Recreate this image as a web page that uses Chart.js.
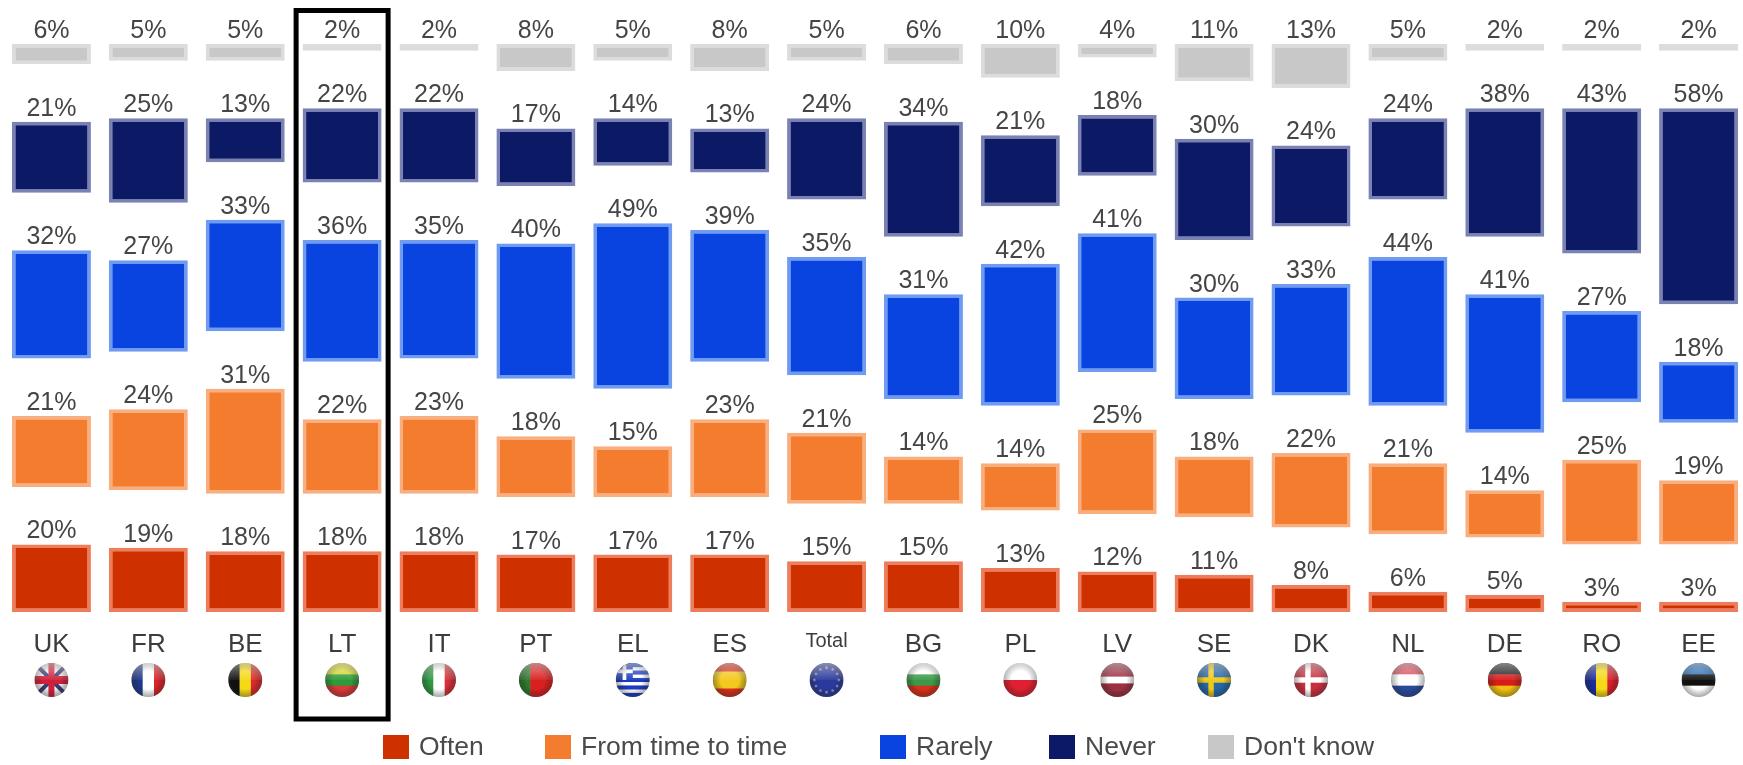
<!DOCTYPE html>
<html>
<head>
<meta charset="utf-8">
<title>Chart</title>
<script src="https://cdn.jsdelivr.net/npm/chart.js@4"></script>
<style>
	html, body { margin: 0; padding: 0; background: #fff; overflow: hidden; }
	canvas { display: block; filter: blur(0.6px); }
</style>
</head>
<body>
<canvas id="chart" width="1747" height="765" style="width:1747px;height:765px"></canvas>
<script>
const countries = ['UK', 'FR', 'BE', 'LT', 'IT', 'PT', 'EL', 'ES', 'Total', 'BG', 'PL', 'LV', 'SE', 'DK', 'NL', 'DE', 'RO', 'EE'];
const often = [20, 19, 18, 18, 18, 17, 17, 17, 15, 15, 13, 12, 11, 8, 6, 5, 3, 3];
const fromTimeToTime = [21, 24, 31, 22, 23, 18, 15, 23, 21, 14, 14, 25, 18, 22, 21, 14, 25, 19];
const rarely = [32, 27, 33, 36, 35, 40, 49, 39, 35, 31, 42, 41, 30, 33, 44, 41, 27, 18];
const never = [21, 25, 13, 22, 22, 17, 14, 13, 24, 34, 21, 18, 30, 24, 24, 38, 43, 58];
const dontKnow = [6, 5, 5, 2, 2, 8, 5, 8, 5, 6, 10, 4, 11, 13, 5, 2, 2, 2];

// white space between two segments, in % units
const GAP = 17;

const series = [
	{ label: 'Often', data: often, color: '#cf3000', edge: '#ee7d5c' },
	{ label: 'From time to time', data: fromTimeToTime, color: '#f37c2e', edge: '#f9ae80' },
	{ label: 'Rarely', data: rarely, color: '#0a44e0', edge: '#6f9bf0' },
	{ label: 'Never', data: never, color: '#0c1a66', edge: '#7a82b4' },
	{ label: "Don't know", data: dontKnow, color: '#c8c8c8', edge: '#dcdcdc' }
];

const datasets = [];
series.forEach((s, i) => {
	datasets.push({
		label: s.label,
		data: s.data,
		backgroundColor: s.color,
		borderColor: s.edge,
		borderWidth: 3.5,
		borderSkipped: false,
		stack: 'all'
	});
	if (i < series.length - 1) {
		datasets.push({
			label: 'gap',
			data: countries.map(() => GAP),
			backgroundColor: 'transparent',
			stack: 'all'
		});
	}
});

const stripes = {
	FR: ['v', '#1f3a8c', '#ffffff', '#d8242c'],
	BE: ['v', '#111111', '#f5d816', '#dc2a2a'],
	LT: ['h', '#d6d62a', '#2f9a3a', '#d83a3a'],
	IT: ['v', '#2f9a45', '#ffffff', '#d8303a'],
	PT: ['v', '#2f7a2f', '#d82020', '#d82020'],
	ES: ['h', '#d8301c', '#f2c91c', '#f2c91c', '#d8301c'],
	BG: ['h', '#ffffff', '#3a9a48', '#d8301c'],
	PL: ['h', '#ffffff', '#e02030'],
	LV: ['h', '#9c3040', '#9c3040', '#ffffff', '#9c3040', '#9c3040'],
	NL: ['h', '#d85060', '#ffffff', '#2a4a9c'],
	DE: ['h', '#222222', '#d81c1c', '#f0c010'],
	RO: ['v', '#1c2f9c', '#f5d816', '#d8202c'],
	EE: ['h', '#2a70b8', '#111111', '#ffffff']
};

function drawCross(ctx, x, y, r, back, front) {
	ctx.fillStyle = back;
	ctx.fillRect(x - r, y - r, r * 2, r * 2);
	ctx.fillStyle = front;
	ctx.fillRect(x - r, y - r * 0.16, r * 2, r * 0.32);
	ctx.fillRect(x - r * 0.34, y - r, r * 0.32, r * 2);
}

function drawFlagBody(ctx, code, x, y, r) {
	if (stripes[code]) {
		const [dir, ...colors] = stripes[code];
		const step = r * 2 / colors.length;
		colors.forEach((c, i) => {
			ctx.fillStyle = c;
			if (dir === 'v') ctx.fillRect(x - r + i * step, y - r, step + 0.5, r * 2);
			else ctx.fillRect(x - r, y - r + i * step, r * 2, step + 0.5);
		});
	} else if (code === 'SE') {
		drawCross(ctx, x, y, r, '#2468a8', '#f0c818');
	} else if (code === 'DK') {
		drawCross(ctx, x, y, r, '#c83040', '#ffffff');
	} else if (code === 'UK') {
		ctx.fillStyle = '#f4f0f2';
		ctx.fillRect(x - r, y - r, r * 2, r * 2);
		ctx.strokeStyle = '#3a3a70';
		ctx.lineWidth = 4;
		ctx.beginPath();
		ctx.moveTo(x - r, y - r); ctx.lineTo(x + r, y + r);
		ctx.moveTo(x + r, y - r); ctx.lineTo(x - r, y + r);
		ctx.stroke();
		ctx.fillStyle = '#d02038';
		ctx.fillRect(x - r, y - 4, r * 2, 8);
		ctx.fillRect(x - 3, y - r, 6, r * 2);
	} else if (code === 'EL') {
		ctx.fillStyle = '#ffffff';
		ctx.fillRect(x - r, y - r, r * 2, r * 2);
		ctx.fillStyle = '#1c3cc0';
		for (let i = 0; i < 5; i++) ctx.fillRect(x - r, y - r + i * r * 0.44, r * 2, r * 0.24);
		ctx.fillRect(x - r, y - r, r, r);
		ctx.fillStyle = '#ffffff';
		ctx.fillRect(x - r, y - r * 0.62, r, r * 0.22);
		ctx.fillRect(x - r * 0.6, y - r, r * 0.22, r);
	} else if (code === 'Total') {
		ctx.fillStyle = '#2a3a9c';
		ctx.fillRect(x - r, y - r, r * 2, r * 2);
		ctx.fillStyle = '#8c90c8';
		for (let a = 0; a < 12; a++) {
			ctx.beginPath();
			ctx.arc(x + Math.cos(a * Math.PI / 6) * r * 0.72, y + Math.sin(a * Math.PI / 6) * r * 0.72, 1.4, 0, Math.PI * 2);
			ctx.fill();
		}
	}
}

function drawFlag(ctx, code, x, y, r) {
	ctx.save();
	ctx.beginPath();
	ctx.arc(x, y, r, 0, Math.PI * 2);
	ctx.clip();
	drawFlagBody(ctx, code, x, y, r);
	// glass look of the little spheres
	const shade = ctx.createRadialGradient(x, y, r * 0.55, x, y, r);
	shade.addColorStop(0, 'rgba(0,0,0,0)');
	shade.addColorStop(1, 'rgba(40,40,40,0.4)');
	ctx.fillStyle = shade;
	ctx.fillRect(x - r, y - r, r * 2, r * 2);
	const gloss = ctx.createLinearGradient(x, y - r, x, y);
	gloss.addColorStop(0, 'rgba(255,255,255,0.45)');
	gloss.addColorStop(1, 'rgba(255,255,255,0.05)');
	ctx.fillStyle = gloss;
	ctx.fillRect(x - r, y - r, r * 2, r);
	ctx.restore();
}

// percent above each segment
const valueLabels = {
	id: 'valueLabels',
	afterDatasetsDraw(chart) {
		const ctx = chart.ctx;
		ctx.save();
		ctx.font = '25px "Liberation Sans"';
		ctx.fillStyle = '#454545';
		ctx.textAlign = 'center';
		ctx.textBaseline = 'alphabetic';
		chart.data.datasets.forEach((ds, i) => {
			if (ds.label === 'gap') return;
			chart.getDatasetMeta(i).data.forEach((bar, j) => {
				ctx.fillText(ds.data[j] + '%', bar.x, bar.y - 6);
			});
		});
		ctx.restore();
	}
};

// flags, LT highlight box and the unevenly spaced legend
const extras = {
	id: 'extras',
	afterDraw(chart) {
		const ctx = chart.ctx;
		const xScale = chart.scales.x;
		countries.forEach((code, i) => {
			drawFlag(ctx, code, xScale.getPixelForValue(i), 680, 17);
		});

		const lt = xScale.getPixelForValue(countries.indexOf('LT'));
		ctx.strokeStyle = '#000';
		ctx.lineWidth = 5;
		ctx.strokeRect(lt - 46, 10.5, 92, 708.5);

		const legendX = [383, 545, 880, 1049, 1208];
		ctx.font = '26.5px "Liberation Sans"';
		ctx.textAlign = 'left';
		ctx.textBaseline = 'middle';
		series.forEach((s, i) => {
			ctx.fillStyle = s.color;
			ctx.fillRect(legendX[i], 735, 26, 24);
			ctx.fillStyle = '#4a4a4a';
			ctx.fillText(s.label, legendX[i] + 36, 748);
		});
	}
};

new Chart(document.getElementById('chart').getContext('2d'), {
	type: 'bar',
	data: { labels: countries, datasets: datasets },
	plugins: [valueLabels, extras],
	options: {
		responsive: false,
		animation: false,
		layout: { padding: { left: 3, right: 0, top: 0, bottom: 0 } },
		plugins: { legend: { display: false }, tooltip: { enabled: false } },
		datasets: { bar: { barPercentage: 1, categoryPercentage: 0.815 } },
		scales: {
			x: {
				stacked: true,
				grid: { display: false },
				border: { display: false },
				afterFit(scale) { scale.height = 153; },
				ticks: {
					color: '#3c3c3c',
					padding: 9,
					maxRotation: 0,
					autoSkip: false,
					font: c => ({ family: '"Liberation Sans"', size: c.index === countries.indexOf('Total') ? 20 : 26 })
				}
			},
			y: { stacked: true, display: false, min: 0, max: 181 }
		}
	}
});
</script>
</body>
</html>
